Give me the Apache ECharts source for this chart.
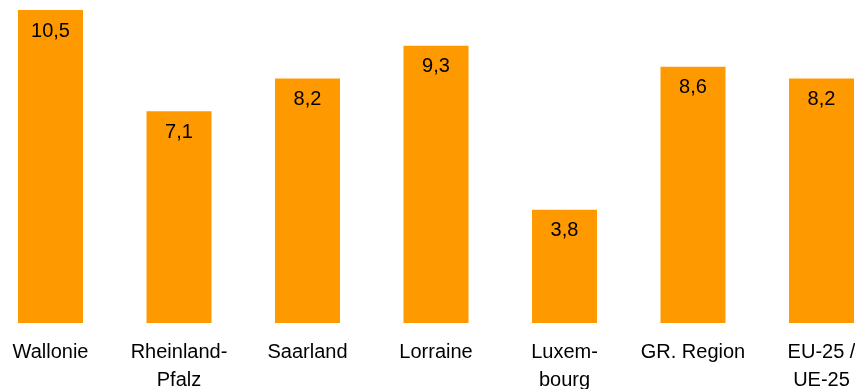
<!DOCTYPE html>
<html><head><meta charset="utf-8">
<script src="https://cdn.jsdelivr.net/npm/echarts@6/dist/echarts.min.js"></script>
<style>html,body{margin:0;padding:0;background:#fff}#c{width:855px;height:389px}</style>
</head><body><div id="c"></div>
<script>
const categories = ["Wallonie", "Rheinland-\nPfalz", "Saarland", "Lorraine", "Luxem-\nbourg", "GR. Region", "EU-25 /\nUE-25"];
const values = [10.5, 7.1, 8.2, 9.3, 3.8, 8.6, 8.2];

const chart = echarts.init(document.getElementById('c'));
chart.setOption({
  animation: false,
  grid: {left: 50.5, right: 33.5, top: 10, bottom: 66, containLabel: false, outerBoundsMode: 'none'},
  xAxis: {
    type: 'category', data: categories, boundaryGap: false,
    axisLine: {show: false}, axisTick: {show: false},
    axisLabel: {color: '#000', fontFamily: 'Liberation Sans, Arial', fontSize: 20, lineHeight: 28, margin: 15, interval: 0}
  },
  yAxis: {type: 'value', min: 0, max: 10.5, show: false, splitLine: {show: false}},
  series: [{
    type: 'bar', data: values, barWidth: 65,
    itemStyle: {color: '#FF9900'},
    label: {show: true, position: 'insideTop', distance: 11, color: '#000', fontFamily: 'Liberation Sans, Arial', fontSize: 20,
      formatter: p => String(p.value).replace('.', ',')}
  }]
});
</script></body></html>
